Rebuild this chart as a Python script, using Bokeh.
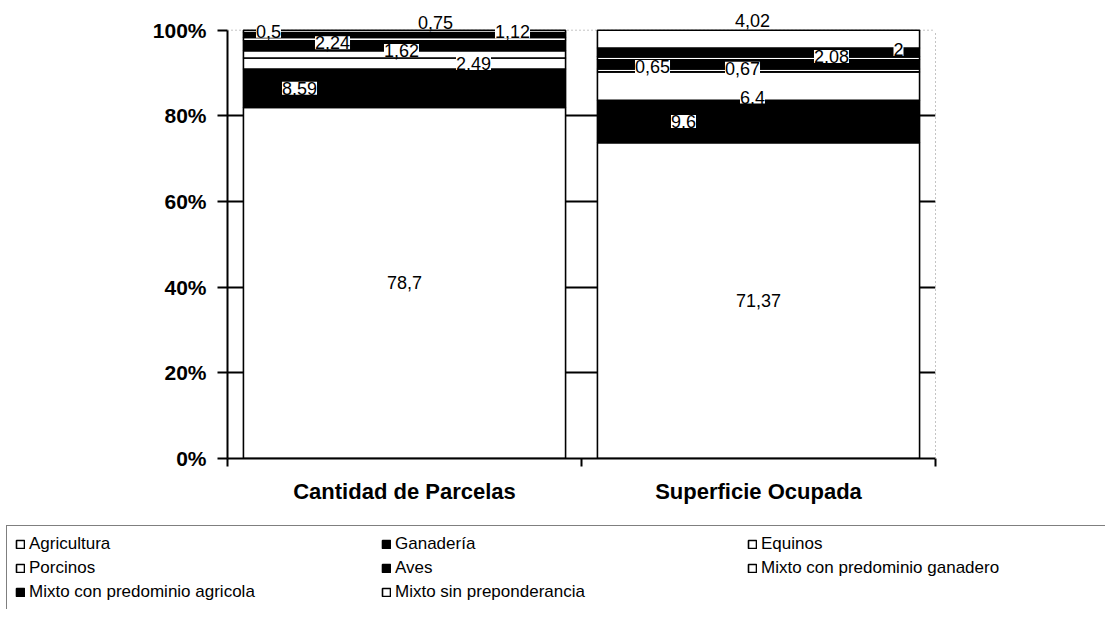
from bokeh.plotting import figure
from bokeh.models import (ColumnDataSource, Range1d, FixedTicker, PrintfTickFormatter, LabelSet,
                          LinearAxis, Span)
from bokeh.core.properties import value
from bokeh.embed import file_html
from bokeh.resources import INLINE

# ---------------- data ----------------
categories = ["Cantidad de Parcelas", "Superficie Ocupada"]
series_names = ["Agricultura", "Ganadería", "Equinos", "Porcinos", "Aves",
                "Mixto con predominio ganadero", "Mixto con predominio agricola",
                "Mixto sin preponderancia"]
agricultura = [78.7, 71.37]
ganaderia = [8.59, 9.6]
equinos = [2.49, 6.4]
porcinos = [1.62, 0.65]
aves = [2.24, 2.08]
mixto_ganadero = [0.75, 0.67]
mixto_agricola = [1.12, 2.0]
mixto_sin = [0.5, 4.02]
y_ticks = [0, 20, 40, 60, 80, 100]

series_values = [agricultura, ganaderia, equinos, porcinos, aves,
                 mixto_ganadero, mixto_agricola, mixto_sin]

# ---------------- styles ----------------
series_colors = ["white", "black", "white", "white", "black", "white", "black", "white"]
# manual data-label displacements (screen px) per series, per category
label_dx = [[0, 0], [-105, -75], [69, -6], [-3, -106], [-72, 73], [31, -16], [108, 140], [-136, -6]]
label_dy = [[0, 0], [0, 0], [0, -11], [4, 4], [3, 8], [17, -10], [3, 3], [0, 19]]
FONT = "Liberation Sans"

# ---------------- main chart ----------------
ncat = len(categories)
xs = [i + 0.5 for i in range(ncat)]
totals = [sum(s[c] for s in series_values) for c in range(ncat)]
keys = ["s%d" % i for i in range(len(series_values))]
data = {"x": xs}
for k, s in zip(keys, series_values):
    data[k] = [s[c] / totals[c] * 100 for c in range(ncat)]
src = ColumnDataSource(data)

p = figure(width=1105, height=519, output_backend="svg", toolbar_location=None,
           x_range=Range1d(0, ncat), y_range=Range1d(0, 106),
           min_border_left=227, min_border_right=170, min_border_top=4,
           min_border_bottom=61)
p.background_fill_color = "white"
p.border_fill_color = "white"
p.outline_line_color = None

p.vbar_stack(keys, x="x", width=0.91, source=src, fill_color=series_colors,
             line_color="black", line_width=1.6)

# data labels
lx, ly, lt, ldx, ldy = [], [], [], [], []
for si, s in enumerate(series_values):
    for c in range(ncat):
        below = sum(data[keys[j]][c] for j in range(si))
        lx.append(xs[c])
        ly.append(below + data[keys[si]][c] / 2)
        lt.append(("%g" % s[c]).replace(".", ","))
        ldx.append(label_dx[si][c])
        ldy.append(label_dy[si][c])
lsrc = ColumnDataSource(dict(x=lx, y=ly, text=lt, dx=ldx, dy=ldy))
p.add_layout(LabelSet(x="x", y="y", text="text", x_offset="dx", y_offset="dy", source=lsrc,
                      text_align="center", text_baseline="middle", text_font_size="18px",
                      text_font=value(FONT), text_color="black",
                      background_fill_color="white"))

# dotted plot-area border (top and right)
p.add_layout(Span(location=100, dimension="width", line_color="#888888",
                  line_dash="1 3", line_width=1, level="underlay"))
yr = LinearAxis(ticker=FixedTicker(ticks=[]), bounds=(0, 100), axis_line_color="#888888",
                axis_line_dash="1 3", axis_line_width=1, major_tick_out=0, major_tick_in=0,
                minor_tick_out=0, minor_tick_in=0)
p.add_layout(yr, "right")

# axes
yax = p.yaxis[0]
yax.ticker = FixedTicker(ticks=y_ticks)
yax.bounds = (0, 100)
yax.formatter = PrintfTickFormatter(format="%d%%")
yax.major_tick_out = 10
yax.major_tick_in = 0
yax.minor_tick_out = 0
yax.minor_tick_in = 0
yax.major_label_standoff = 11
yax.major_label_text_font = FONT
yax.major_label_text_font_style = "bold"
yax.major_label_text_font_size = "21px"
yax.major_label_text_color = "black"
yax.axis_line_width = 2
yax.axis_line_color = "black"
yax.major_tick_line_width = 2

xax = p.xaxis[0]
xax.ticker = FixedTicker(ticks=xs, minor_ticks=list(range(ncat + 1)))
xax.major_label_overrides = {x: c for x, c in zip(xs, categories)}
xax.major_tick_out = 0
xax.major_tick_in = 0
xax.minor_tick_out = 8
xax.minor_tick_in = 0
xax.minor_tick_line_width = 2
xax.minor_tick_line_color = "black"
xax.major_label_standoff = 12
xax.major_label_text_font = FONT
xax.major_label_text_font_style = "bold"
xax.major_label_text_font_size = "22px"
xax.major_label_text_color = "black"
xax.axis_line_width = 2
xax.axis_line_color = "black"

p.xgrid.visible = False
p.ygrid.ticker = FixedTicker(ticks=y_ticks[1:-1])
p.ygrid.grid_line_color = "black"
p.ygrid.grid_line_width = 2

# ---------------- legend strip (same series; its bars are hidden) ----------------
pl = figure(width=1105, height=90, output_backend="svg", toolbar_location=None,
            x_axis_location=None, y_axis_location=None,
            x_range=Range1d(0, ncat), y_range=Range1d(200, 300), min_border=0)
pl.outline_line_color = None
pl.grid.visible = False
leg_renderers = pl.vbar_stack(keys, x="x", width=0.91, source=src, fill_color=series_colors,
                              line_color="black", line_width=1.6, legend_label=series_names)
for r in leg_renderers:
    r.visible = False
leg = pl.legend[0]
leg.location = (6, -2)
leg.orientation = "horizontal"
leg.ncols = 3
leg.glyph_width = 10
leg.glyph_height = 10
leg.label_standoff = 4
leg.label_width = 348
leg.label_height = 20
leg.spacing = 4
leg.padding = 8
leg.margin = 0
leg.click_policy = "none"
leg.inactive_fill_alpha = 0
leg.border_line_color = "black"
leg.border_line_width = 1.5
leg.background_fill_color = "white"
leg.background_fill_alpha = 1
leg.label_text_font = FONT
leg.label_text_font_size = "17px"
leg.label_text_color = "black"

open("out.html", "w").write(file_html([p, pl], INLINE))
